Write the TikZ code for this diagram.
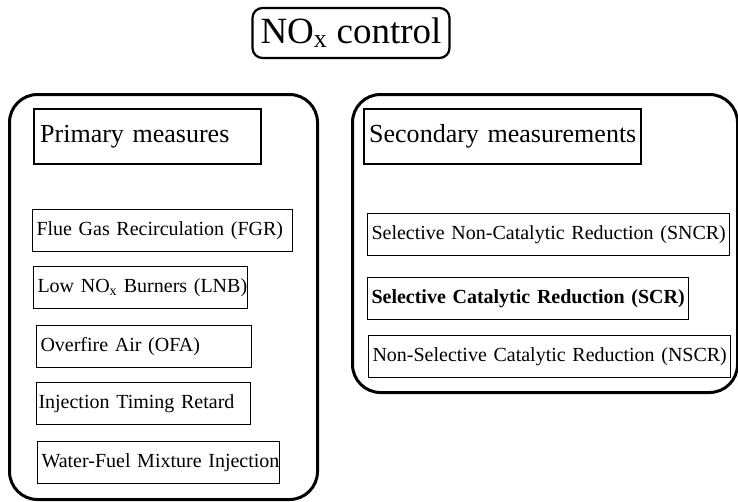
\documentclass[tikz,border=0pt]{standalone}
\usepackage{fontspec}
\setmainfont{Liberation Serif}
\usepackage{tikz}
\usetikzlibrary{positioning}

\begin{document}
\begin{tikzpicture}[x=1pt, y=-1pt,
    group/.style={draw, line width=3pt, rounded corners=28pt, anchor=north west, inner sep=0pt},
    title/.style={draw, line width=2.2pt, rounded corners=10pt, font=\fontsize{37}{40}\selectfont},
    heading/.style={draw, line width=2.4pt, anchor=north west, align=left, inner xsep=6pt, minimum height=55pt, font=\fontsize{26}{30}\selectfont},
    measure/.style={draw, line width=1pt, anchor=north west, align=left, inner xsep=4pt, minimum height=42pt, font=\fontsize{20}{24}\selectfont}]
        \useasboundingbox (0,0) rectangle (738,501);

        \node[title, minimum width=197pt, minimum height=50pt] (nox) at (351,33) {NO\textsubscript{x} control};

        \node[group, minimum width=308pt, minimum height=405pt] (primgrp) at (8,93) {};
        \node[group, minimum width=385pt, minimum height=298pt] (secgrp) at (351,93) {};

        % primary measures
        \node[heading, text width=215pt] (prim) at (33,108) {\mbox{Primary measures}};
        \node[measure, text width=252pt, below=44pt of prim.south west, anchor=north west, xshift=-1pt] (fgr) {\mbox{Flue Gas Recirculation (FGR)}};
        \node[measure, text width=206pt, below=14pt of fgr.south west, anchor=north west, xshift=1pt] (lnb) {\mbox{Low NO\textsubscript{x} Burners (LNB)}};
        \node[measure, text width=207pt, below=16pt of lnb.south west, anchor=north west, xshift=3pt] (ofa) {\mbox{Overfire Air (OFA)}};
        \node[measure, text width=210pt, inner xsep=2pt, below=14pt of ofa.south west, anchor=north west] (itr) {\mbox{Injection Timing Retard}};
        \node[measure, text width=234pt, below=16pt of itr.south west, anchor=north west, xshift=1pt] (wfmi) {\mbox{Water-Fuel Mixture Injection}};

        % secondary measurements
        \node[heading, text width=267pt, inner xsep=5pt] (sec) at (363,108) {\mbox{Secondary measurements}};
        \node[measure, text width=354pt, below=48pt of sec.south west, anchor=north west, xshift=4pt] (sncr) {\mbox{Selective Non-Catalytic Reduction (SNCR)}};
        \node[measure, text width=313pt, below=21pt of sncr.south west, anchor=north west] (scr) {\mbox{\bfseries Selective Catalytic Reduction (SCR)}};
        \node[measure, text width=354pt, below=15pt of scr.south west, anchor=north west, xshift=1pt] (nscr) {\mbox{Non-Selective Catalytic Reduction (NSCR)}};

    \end{tikzpicture}
\end{document}
